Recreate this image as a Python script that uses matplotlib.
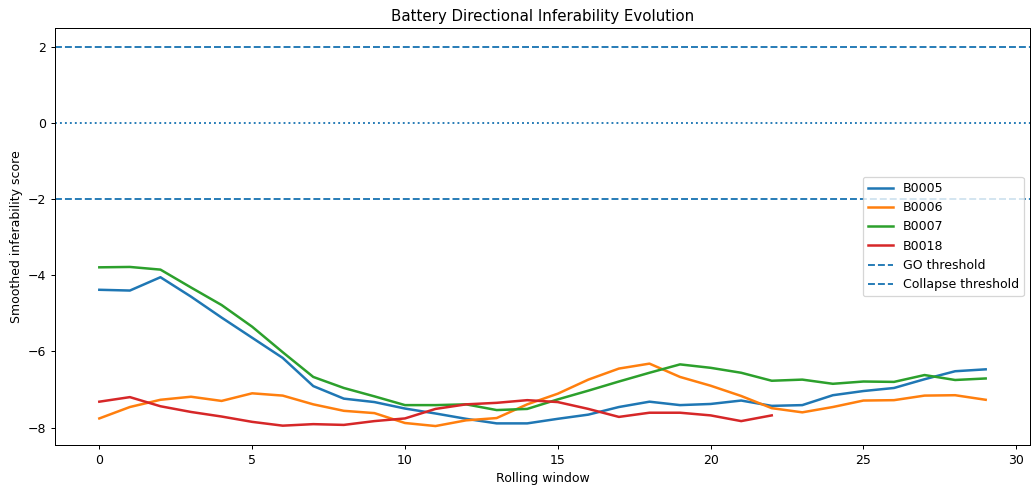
import matplotlib
matplotlib.use("Agg")
import matplotlib.pyplot as plt

# smoothed inferability score per rolling window
b0005 = [-4.38, -4.40, -4.05, -4.56, -5.11, -5.64, -6.17, -6.91, -7.24, -7.33,
         -7.50, -7.63, -7.77, -7.89, -7.89, -7.77, -7.66, -7.46, -7.32, -7.41,
         -7.38, -7.29, -7.43, -7.41, -7.15, -7.04, -6.96, -6.73, -6.52, -6.47]
b0006 = [-7.76, -7.46, -7.27, -7.19, -7.30, -7.10, -7.16, -7.39, -7.56, -7.62,
         -7.88, -7.96, -7.81, -7.75, -7.39, -7.11, -6.74, -6.45, -6.32, -6.67,
         -6.90, -7.17, -7.49, -7.60, -7.46, -7.29, -7.28, -7.16, -7.15, -7.27]
b0007 = [-3.79, -3.78, -3.85, -4.32, -4.78, -5.35, -6.02, -6.67, -6.96, -7.18,
         -7.41, -7.41, -7.39, -7.54, -7.51, -7.26, -7.03, -6.79, -6.56, -6.34,
         -6.43, -6.56, -6.77, -6.74, -6.85, -6.79, -6.80, -6.62, -6.75, -6.71]
b0018 = [-7.32, -7.20, -7.44, -7.59, -7.71, -7.85, -7.95, -7.91, -7.93, -7.83,
         -7.76, -7.51, -7.39, -7.35, -7.28, -7.33, -7.51, -7.72, -7.61, -7.61,
         -7.68, -7.83, -7.68]

series = {"B0005": b0005, "B0006": b0006, "B0007": b0007, "B0018": b0018}

GO_THRESHOLD = 2.0
COLLAPSE_THRESHOLD = -2.0

DPI = 90


def main() -> None:
    fig, ax = plt.subplots(figsize=(1032 / DPI, 488 / DPI), dpi=DPI)
    for name, vals in series.items():
        ax.plot(range(len(vals)), vals, label=name, linewidth=2)
    ax.axhline(GO_THRESHOLD, linestyle="--", label="GO threshold")
    ax.axhline(COLLAPSE_THRESHOLD, linestyle="--", label="Collapse threshold")
    ax.axhline(0, linestyle=":")
    ax.set_title("Battery Directional Inferability Evolution")
    ax.set_xlabel("Rolling window")
    ax.set_ylabel("Smoothed inferability score")
    ax.legend(loc="center right")
    fig.subplots_adjust(left=55 / 1032, right=1030 / 1032,
                        top=1 - 28 / 488, bottom=1 - 445 / 488)
    fig.savefig("out.png", dpi=DPI)
    plt.close(fig)


if __name__ == "__main__":
    main()
